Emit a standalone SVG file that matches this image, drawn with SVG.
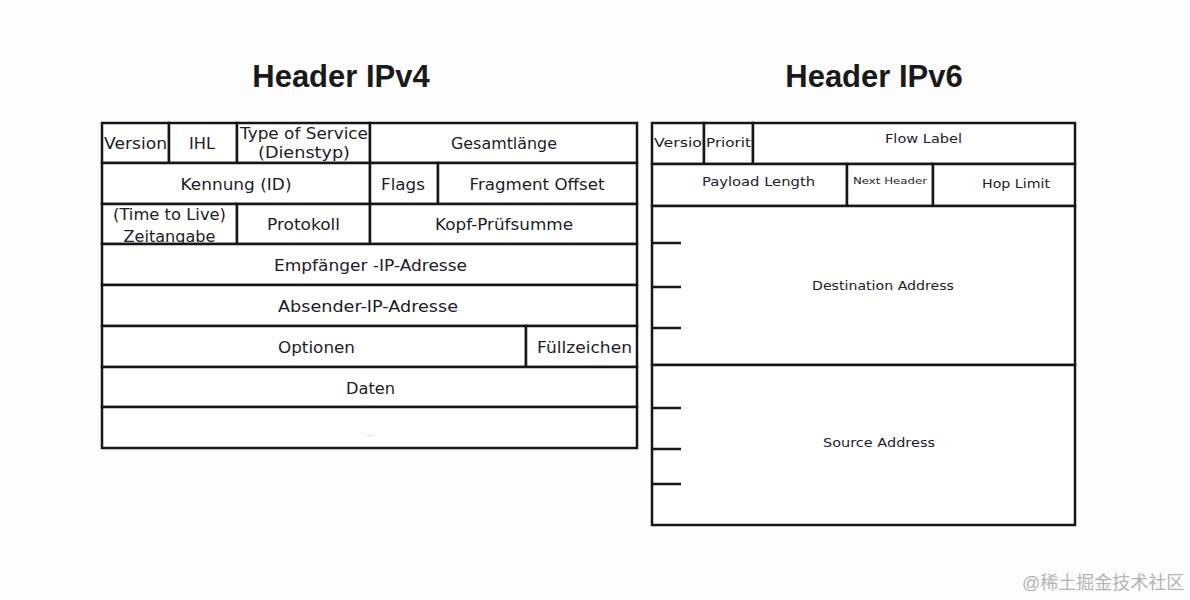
<svg xmlns="http://www.w3.org/2000/svg" width="1190" height="600" viewBox="0 0 1190 600">
<style>
.bg{fill:#fdfdfd}
.cell{fill:#ffffff;stroke:#161616;stroke-width:2.5}
.tick{stroke:#161616;stroke-width:2.5}
.t{font-family:"DejaVu Sans","Liberation Sans",sans-serif;font-size:15px;fill:#231a2a;text-anchor:middle}
.s{font-size:13px}
.xs{font-size:9px}
.title{font-family:"Liberation Sans",Arial,sans-serif;font-weight:bold;font-size:31px;fill:#1a1a1a;text-anchor:middle}
.wm{font-family:"Liberation Sans","Noto Sans CJK SC",sans-serif;font-size:18px;fill:#b4b4b4}
</style>
<defs>
<clipPath id="cv6"><rect x="652" y="123" width="52" height="41"/></clipPath>
<clipPath id="cp6"><rect x="704" y="123" width="48" height="41"/></clipPath>
<clipPath id="cttl"><rect x="102" y="204" width="135" height="40"/></clipPath>
</defs>
<rect class="bg" x="0" y="0" width="1190" height="600"/>

<text class="title" x="341" y="87">Header IPv4</text>
<text class="title" x="874" y="87">Header IPv6</text>

<g id="ipv4">
<g id="v4-version"><rect class="cell" x="102" y="123" width="67" height="40"/><text class="t" x="135.5" y="149" textLength="63" lengthAdjust="spacingAndGlyphs">Version</text></g>
<g id="v4-ihl"><rect class="cell" x="169" y="123" width="68" height="40"/><text class="t" x="202" y="149" textLength="26" lengthAdjust="spacingAndGlyphs">IHL</text></g>
<g id="v4-tos"><rect class="cell" x="237" y="123" width="133" height="40"/><text class="t" x="304" y="139" textLength="128" lengthAdjust="spacingAndGlyphs">Type of Service</text><text class="t" x="304" y="158" textLength="92" lengthAdjust="spacingAndGlyphs">(Dienstyp)</text></g>
<g id="v4-len"><rect class="cell" x="370" y="123" width="267" height="40"/><text class="t" x="504" y="149" textLength="106" lengthAdjust="spacingAndGlyphs">Gesamtlänge</text></g>

<g id="v4-id"><rect class="cell" x="102" y="163" width="268" height="41"/><text class="t" x="236" y="190" textLength="111" lengthAdjust="spacingAndGlyphs">Kennung (ID)</text></g>
<g id="v4-flags"><rect class="cell" x="370" y="163" width="68" height="41"/><text class="t" x="403" y="190" textLength="44" lengthAdjust="spacingAndGlyphs">Flags</text></g>
<g id="v4-frag"><rect class="cell" x="438" y="163" width="199" height="41"/><text class="t" x="537" y="190" textLength="135" lengthAdjust="spacingAndGlyphs">Fragment Offset</text></g>

<g id="v4-ttl"><rect class="cell" x="102" y="204" width="135" height="40"/><g clip-path="url(#cttl)"><text class="t" x="169.5" y="220" textLength="113" lengthAdjust="spacingAndGlyphs">(Time to Live)</text><text class="t" x="169.5" y="242" textLength="92" lengthAdjust="spacingAndGlyphs">Zeitangabe</text></g></g>
<g id="v4-proto"><rect class="cell" x="237" y="204" width="133" height="40"/><text class="t" x="303.5" y="230" textLength="73" lengthAdjust="spacingAndGlyphs">Protokoll</text></g>
<g id="v4-csum"><rect class="cell" x="370" y="204" width="267" height="40"/><text class="t" x="504" y="230" textLength="138" lengthAdjust="spacingAndGlyphs">Kopf-Prüfsumme</text></g>

<g id="v4-dst"><rect class="cell" x="102" y="244" width="535" height="41"/><text class="t" x="370.5" y="271" textLength="193" lengthAdjust="spacingAndGlyphs">Empfänger -IP-Adresse</text></g>
<g id="v4-src"><rect class="cell" x="102" y="285" width="535" height="41"/><text class="t" x="368" y="312" textLength="180" lengthAdjust="spacingAndGlyphs">Absender-IP-Adresse</text></g>
<g id="v4-opt"><rect class="cell" x="102" y="326" width="424" height="41"/><text class="t" x="316.5" y="353" textLength="77" lengthAdjust="spacingAndGlyphs">Optionen</text></g>
<g id="v4-pad"><rect class="cell" x="526" y="326" width="111" height="41"/><text class="t" x="584.5" y="353" textLength="95" lengthAdjust="spacingAndGlyphs">Füllzeichen</text></g>
<g id="v4-data"><rect class="cell" x="102" y="367" width="535" height="40"/><text class="t" x="370.5" y="394" textLength="49" lengthAdjust="spacingAndGlyphs">Daten</text></g>
<g id="v4-more"><rect class="cell" x="102" y="407" width="535" height="41"/><text class="t" x="369" y="436" style="font-size:9px;fill:#bdbdbd">...</text></g>
</g>

<g id="ipv6">
<g id="v6-version"><rect class="cell" x="652" y="123" width="52" height="41"/><text class="t s" x="654" y="147" style="text-anchor:start" clip-path="url(#cv6)" textLength="58" lengthAdjust="spacingAndGlyphs">Version</text></g>
<g id="v6-prio"><rect class="cell" x="704" y="123" width="49" height="41"/><text class="t s" x="706" y="147" style="text-anchor:start" clip-path="url(#cp6)" textLength="54" lengthAdjust="spacingAndGlyphs">Priority</text></g>
<g id="v6-flow"><rect class="cell" x="753" y="123" width="322" height="41"/><text class="t s" x="923.5" y="143" textLength="77" lengthAdjust="spacingAndGlyphs">Flow Label</text></g>
<g id="v6-plen"><rect class="cell" x="652" y="164" width="195" height="42"/><text class="t s" x="758.5" y="186" textLength="113" lengthAdjust="spacingAndGlyphs">Payload Length</text></g>
<g id="v6-next"><rect class="cell" x="847" y="164" width="86" height="42"/><text class="t xs" x="890" y="184" textLength="74" lengthAdjust="spacingAndGlyphs">Next Header</text></g>
<g id="v6-hop"><rect class="cell" x="933" y="164" width="142" height="42"/><text class="t s" x="1016" y="188" textLength="68" lengthAdjust="spacingAndGlyphs">Hop Limit</text></g>
<g id="v6-dst"><rect class="cell" x="652" y="206" width="423" height="159"/><text class="t s" x="883" y="290" textLength="142" lengthAdjust="spacingAndGlyphs">Destination Address</text>
<line class="tick" x1="652" y1="243" x2="681" y2="243"/><line class="tick" x1="652" y1="287" x2="681" y2="287"/><line class="tick" x1="652" y1="328" x2="681" y2="328"/></g>
<g id="v6-src"><rect class="cell" x="652" y="365" width="423" height="160"/><text class="t s" x="879" y="447" textLength="112" lengthAdjust="spacingAndGlyphs">Source Address</text>
<line class="tick" x1="652" y1="408" x2="681" y2="408"/><line class="tick" x1="652" y1="449" x2="681" y2="449"/><line class="tick" x1="652" y1="484" x2="681" y2="484"/></g>
</g>

<text class="wm" x="1022" y="589">@稀土掘金技术社区</text>
</svg>
